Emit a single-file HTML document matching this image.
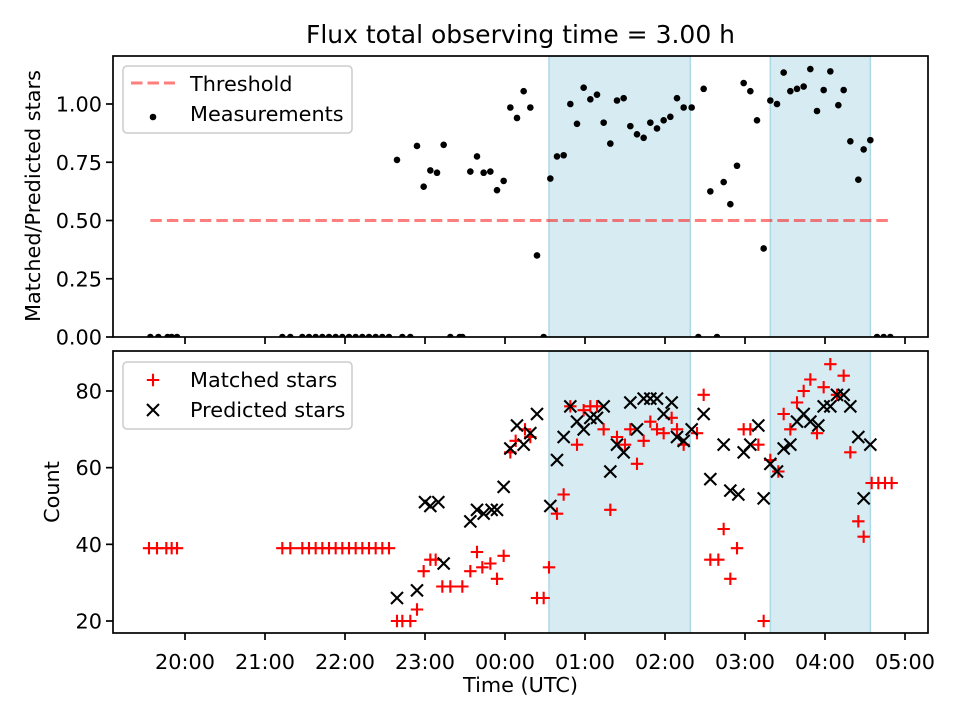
<!DOCTYPE html>
<html><head><meta charset="utf-8"><style>
html,body{margin:0;padding:0;background:#fff}
svg{display:block;font-family:"DejaVu Sans","Liberation Sans",sans-serif}
</style></head><body>
<svg id="fig" width="960" height="720" viewBox="0 0 960 720" xmlns="http://www.w3.org/2000/svg"></svg>
<script>
// ---- data ----
const xTickLabels = ["20:00","21:00","22:00","23:00","00:00","01:00","02:00","03:00","04:00","05:00"];
const topTickValues = [0,0.25,0.5,0.75,1.0];
const bottomTickValues = [20,40,60,80];
const shadeStarts = ["00:33","03:19"];
const shadeEnds = ["02:19","04:34"];
const thresholdValue = 0.5;
const thresholdSpan = ["19:34","04:49"];
const measTimes = ["19:34","19:40","19:47","19:50","19:54","21:13","21:19","21:28","21:33","21:38","21:43","21:48","21:53","21:58","22:03","22:08","22:13","22:18","22:23","22:28","22:33","22:43","22:49","23:19","23:26","23:28","00:29","02:25","02:39","04:39","04:44","04:49",
"22:39","22:54","22:59","23:04","23:09","23:14","23:34","23:39","23:44","23:49","23:54","23:59","00:04","00:09","00:14","00:19","00:24","00:34","00:39","00:44","00:49","00:54","00:59","01:04","01:09","01:14","01:19","01:24","01:29","01:34","01:39","01:44","01:49","01:54","01:59","02:04","02:09","02:14","02:20","02:29","02:34","02:44","02:49","02:54","02:59","03:04","03:09","03:14","03:19","03:24","03:29","03:34","03:39","03:44","03:49","03:54","03:59","04:04","04:10","04:14","04:19","04:25","04:29","04:34"];
const measValues = [0,0,0,0,0,0,0,0,0,0,0,0,0,0,0,0,0,0,0,0,0,0,0,0,0,0,0,0,0,0,0,0,
0.76,0.82,0.645,0.715,0.705,0.825,0.71,0.775,0.705,0.71,0.63,0.67,0.985,0.94,1.055,0.985,0.35,0.68,0.775,0.78,1.0,0.915,1.07,1.02,1.04,0.92,0.83,1.015,1.025,0.905,0.87,0.855,0.92,0.895,0.93,0.945,1.025,0.985,0.985,1.065,0.625,0.665,0.57,0.735,1.09,1.055,0.93,0.38,1.015,1.0,1.135,1.055,1.065,1.075,1.15,0.97,1.06,1.14,0.995,1.06,0.84,0.675,0.805,0.845];
const matchedTimes = ["19:33","19:39","19:46","19:50","19:54","21:13","21:19","21:28","21:33","21:38","21:43","21:48","21:53","21:58","22:03","22:08","22:13","22:18","22:23","22:28","22:33",
"22:39","22:43","22:49","22:54","22:59","23:04","23:08","23:13","23:19","23:28","23:34","23:39","23:43","23:49","23:54","23:59","00:04","00:08","00:15","00:19","00:24","00:29","00:33",
"00:39","00:44","00:49","00:54","00:59","01:04","01:09","01:14","01:19","01:24","01:30","01:34","01:39","01:44","01:49","01:54","01:59","02:05","02:09","02:14","02:24","02:29","02:34","02:40","02:44","02:49","02:54","02:59","03:04","03:10","03:14","03:19","03:25","03:29","03:34","03:39","03:44","03:49","03:54","03:59","04:04","04:09","04:14","04:19","04:25","04:29","04:35","04:40","04:45","04:50"];
const matchedCounts = [39,39,39,39,39,39,39,39,39,39,39,39,39,39,39,39,39,39,39,39,39,
20,20,20,23,33,36,36,29,29,29,33,38,34,35,31,37,64,67,70,68,26,26,34,
48,53,76,66,75,76,76,70,49,68,66,70,61,67,72,70,69,73,70,66,69,79,36,36,44,31,39,70,70,66,20,62,59,74,70,77,80,83,69,81,87,79,84,64,46,42,56,56,56,56];
const predictedTimes = ["22:39","22:54","23:00","23:04","23:10","23:14","23:34","23:39","23:44","23:50","23:54","23:59","00:04","00:09","00:14","00:19","00:24","00:34","00:39","00:44","00:49","00:54","00:59","01:04","01:09","01:14","01:19","01:24","01:29","01:34","01:39","01:44","01:49","01:54","01:59","02:05","02:09","02:14","02:20","02:29","02:34","02:44","02:49","02:55","02:59","03:04","03:10","03:14","03:19","03:24","03:29","03:34","03:39","03:44","03:49","03:55","03:59","04:04","04:09","04:14","04:19","04:25","04:29","04:34"];
const predictedCounts = [26,28,51,50,51,35,46,49,48,49,49,55,65,71,66,69,74,50,62,68,76,72,70,73,73,76,59,66,64,77,70,78,78,78,74,77,68,67,70,74,57,66,54,53,64,66,71,52,61,59,65,66,72,74,72,71,76,76,79,79,76,68,52,66];

// ---- scales ----
const NS="http://www.w3.org/2000/svg";
const svg=document.getElementById('fig');
const L=113,R=928;
const T1=56,B1=337,T2=351,B2=633;
const FS='20.8px';
function mins(t){let [h,m]=t.split(':').map(Number); if(h<12)h+=24; return (h-19)*60+m;}
function X(t){return 105+(typeof t==='string'?mins(t):t)*80/60;}
function Y1(v){return 337-v*233;}
function Y2(c){return 621-(c-20)*230/60;}
function el(tag,attrs,parent){const e=document.createElementNS(NS,tag);for(const k in attrs)e.setAttribute(k,attrs[k]);(parent||svg).appendChild(e);return e;}

const bg=el('rect',{width:960,height:720,fill:'#fff'});



const clip=el('defs',{});
const c1=el('clipPath',{id:'c1'},clip);el('rect',{x:L,y:T1,width:R-L,height:B1-T1},c1);
const c2=el('clipPath',{id:'c2'},clip);el('rect',{x:L,y:T2,width:R-L,height:B2-T2},c2);

// title
const title=el('text',{x:520.5,y:43,'text-anchor':'middle','font-size':'25px',fill:'#000'});
title.textContent='Flux total observing time = 3.00 h';



function panel(top,bot,clipId,name){
  const g=el('g',{'clip-path':'url(#'+clipId+')'});
  
  
  for(let i=0;i<shadeStarts.length;i++){
    const r=el('rect',{x:X(shadeStarts[i]),y:top,width:X(shadeEnds[i])-X(shadeStarts[i]),height:bot-top,fill:'#add8e6','fill-opacity':0.5,stroke:'#add8e6','stroke-width':1.5});
    
    
    g.appendChild(r);
  }
  return g;
}
const g1=panel(T1,B1,'c1','top');
const g2=panel(T2,B2,'c2','bottom');

// threshold
const th=el('line',{x1:X(thresholdSpan[0]),x2:X(thresholdSpan[1]),y1:Y1(thresholdValue),y2:Y1(thresholdValue),stroke:'#ff0000','stroke-opacity':0.5,'stroke-width':3,'stroke-dasharray':'11.5,5'},g1);



for(let i=0;i<measTimes.length;i++){
  const c=el('circle',{cx:X(measTimes[i]),cy:Y1(measValues[i]),r:3.3,fill:'#000'},g1);
  
  
}
function plus(x,y,g){return el('path',{d:`M${x-6.2},${y}H${x+6.2}M${x},${y-6.2}V${y+6.2}`,stroke:'#ff0000','stroke-width':2.1,fill:'none'},g);}
function cross(x,y,g){return el('path',{d:`M${x-6},${y-6}L${x+6},${y+6}M${x-6},${y+6}L${x+6},${y-6}`,stroke:'#000','stroke-width':2.1,fill:'none'},g);}
for(let i=0;i<matchedTimes.length;i++){
  const p=plus(X(matchedTimes[i]),Y2(matchedCounts[i]),g2);
  
  
}
for(let i=0;i<predictedTimes.length;i++){
  const p=cross(X(predictedTimes[i]),Y2(predictedCounts[i]),g2);
  
  
}

// axes
function frame(top,bot,name){
  const r=el('rect',{x:L,y:top,width:R-L,height:bot-top,fill:'none',stroke:'#000','stroke-width':1.7});
  
  
  for(let i=0;i<xTickLabels.length;i++){
    const x=185+i*80;
    const t=el('line',{x1:x,x2:x,y1:bot,y2:bot+7,stroke:'#000','stroke-width':1.7});
    
    
  }
}
frame(T1,B1,'top');frame(T2,B2,'bottom');
for(let i=0;i<xTickLabels.length;i++){
  const t=el('text',{x:185+i*80,y:669,'text-anchor':'middle','font-size':FS,fill:'#000'});
  t.textContent=xTickLabels[i];
  
  
}
for(const v of topTickValues){
  const y=Y1(v);
  const l=el('line',{x1:L-7,x2:L,y1:y,y2:y,stroke:'#000','stroke-width':1.7});
  
  
  const t=el('text',{x:L-11,y:y+7.5,'text-anchor':'end','font-size':FS,fill:'#000'});
  t.textContent=v.toFixed(2);
  
  
}
for(const v of bottomTickValues){
  const y=Y2(v);
  const l=el('line',{x1:L-7,x2:L,y1:y,y2:y,stroke:'#000','stroke-width':1.7});
  
  
  const t=el('text',{x:L-11,y:y+7.5,'text-anchor':'end','font-size':FS,fill:'#000'});
  t.textContent=String(v);
  
  
}
const yl1=el('text',{x:0,y:0,transform:'translate(40,196) rotate(-90)','text-anchor':'middle','font-size':FS,fill:'#000'});
yl1.textContent='Matched/Predicted stars';


const yl2=el('text',{x:0,y:0,transform:'translate(59,492) rotate(-90)','text-anchor':'middle','font-size':FS,fill:'#000'});
yl2.textContent='Count';


const xl=el('text',{x:520.5,y:692,'text-anchor':'middle','font-size':FS,fill:'#000'});
xl.textContent='Time (UTC)';



// legends
function legend(y,name){
  const g=el('g',{});
  
  
  el('rect',{x:123,y:y,width:229,height:67,rx:4,fill:'#fff','fill-opacity':0.8,stroke:'#ccc','stroke-width':1.5},g);
  return g;
}
const lg1=legend(66,'top-legend');
el('line',{x1:131,x2:175,y1:83,y2:83,stroke:'#ff0000','stroke-opacity':0.5,'stroke-width':3,'stroke-dasharray':'11.5,5'},lg1);
let t=el('text',{x:190,y:91,'font-size':FS,fill:'#000'},lg1);t.textContent='Threshold';


el('circle',{cx:153,cy:117,r:3.3,fill:'#000'},lg1);
t=el('text',{x:190,y:121,'font-size':FS,fill:'#000'},lg1);t.textContent='Measurements';


const lg2=legend(362,'bottom-legend');
plus(153,380,lg2);
t=el('text',{x:190,y:387,'font-size':FS,fill:'#000'},lg2);t.textContent='Matched stars';


cross(153,410,lg2);
t=el('text',{x:190,y:417,'font-size':FS,fill:'#000'},lg2);t.textContent='Predicted stars';


</script>
</body></html>
